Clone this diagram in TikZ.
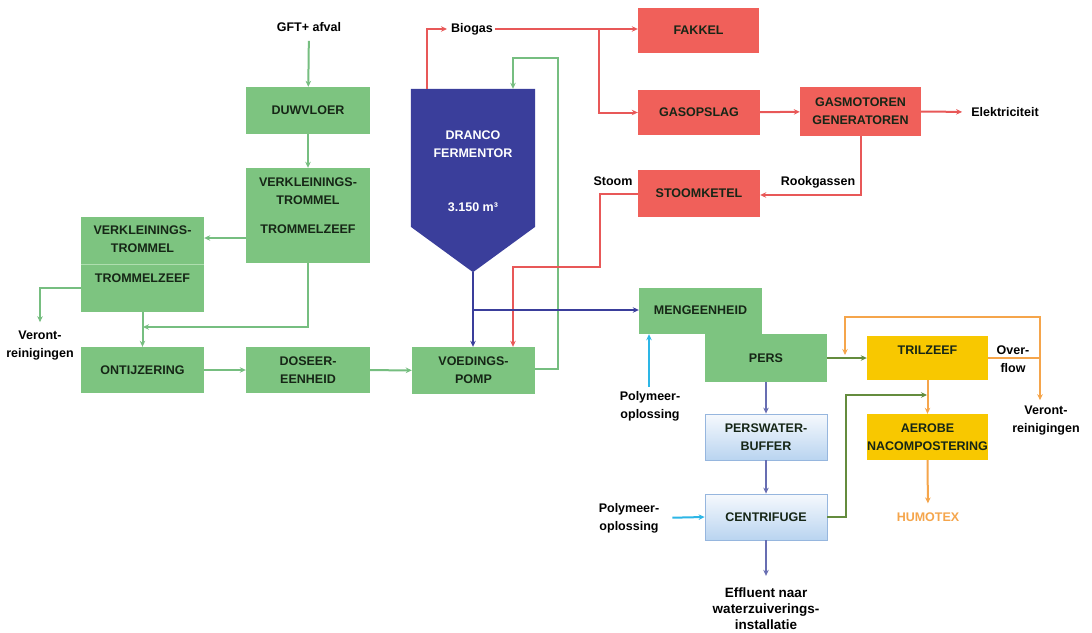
\documentclass[tikz,border=0pt]{standalone}
\usepackage{fontspec}
\setmainfont{Liberation Sans}
\usetikzlibrary{arrows.meta,calc}
\definecolor{gfill}{RGB}{125,196,128}
\definecolor{gline}{RGB}{118,190,128}
\definecolor{gdiv}{RGB}{175,222,175}
\definecolor{rfill}{RGB}{240,96,90}
\definecolor{rline}{RGB}{232,88,88}
\definecolor{dblue}{RGB}{58,62,155}
\definecolor{gold}{RGB}{248,200,0}
\definecolor{oline}{RGB}{245,165,75}
\definecolor{cline}{RGB}{45,182,230}
\definecolor{olive}{RGB}{100,140,62}
\definecolor{pline}{RGB}{104,110,178}
\definecolor{ptop}{RGB}{246,249,253}
\definecolor{pbot}{RGB}{185,212,240}
\definecolor{pbord}{RGB}{150,182,222}
\definecolor{btext}{RGB}{22,38,22}
\begin{document}
\begin{tikzpicture}[x=1pt,y=-1pt,
  every node/.style={font=\fontsize{12.5}{18}\selectfont\bfseries, inner sep=0pt, align=center},
  gbox/.style={fill=gfill, text=btext},
  rbox/.style={fill=rfill, text=btext},
  ybox/.style={fill=gold, text=btext},
  pbox/.style={draw=pbord, line width=0.8pt, top color=ptop, bottom color=pbot, text=btext},
  lbl/.style={text=black},
  con/.style={line width=2pt},
  tip/.style={-{Stealth[length=6pt,width=5.5pt]}},
  garr/.style={con, draw=gline, tip},
  rarr/.style={con, draw=rline, tip},
  barr/.style={con, draw=dblue, tip},
  carr/.style={con, draw=cline, tip},
  oarr/.style={con, draw=olive, tip},
  orarr/.style={con, draw=oline, tip},
  parr/.style={con, draw=pline, tip}
]
\useasboundingbox (0,0) rectangle (1092,632);
\fill[white] (0,0) rectangle (1092,632);

% ---------- green boxes ----------
\node[gbox, minimum width=124pt, minimum height=47pt] (duw) at (308,110.5) {DUWVLOER};
\node[gbox, minimum width=124pt, minimum height=95pt] (vk1) at (308,215.5) {};
\node[text=btext] (vk1a) at (308,191) {VERKLEININGS-\\TROMMEL};
\node[text=btext] (vk1b) at (308,229) {TROMMELZEEF};
\node[gbox, minimum width=123pt, minimum height=95pt] (vk2) at (142.5,264.5) {};
\draw[gdiv, line width=1pt] ($(vk2.west)+(0,-0.5)$) -- ($(vk2.east)+(0,-0.5)$);
\node[text=btext] (vk2a) at (142.5,239) {VERKLEININGS-\\TROMMEL};
\node[text=btext] (vk2b) at (142.5,278) {TROMMELZEEF};
\node[gbox, minimum width=123pt, minimum height=46pt] (ont) at (142.5,370) {ONTIJZERING};
\node[gbox, minimum width=124pt, minimum height=46pt] (dos) at (308,370) {DOSEER-\\EENHEID};
\node[gbox, minimum width=123pt, minimum height=47pt] (voe) at (473.5,370.5) {VOEDINGS-\\POMP};
\node[gbox, minimum width=123pt, minimum height=46pt] (men) at (700.5,311) {};
\node[gbox, minimum width=122pt, minimum height=48pt] (pers) at (766,358) {PERS};
\node[text=btext] (ment) at (700.5,310) {MENGEENHEID};

% ---------- Dranco fermentor ----------
\node[minimum width=124pt, minimum height=183pt] (dra) at (473,180.5) {};
\fill[dblue] (dra.north west) -- (dra.north east) -- ($(dra.north east)+(0,138)$)
  -- (dra.south) -- ($(dra.north west)+(0,138)$) -- cycle;
\node[text=white] (drat) at (473,144.5) {DRANCO\\FERMENTOR};
\node[text=white] (drav) at (473,207) {3.150 m³};

% ---------- red boxes ----------
\node[rbox, minimum width=121pt, minimum height=45pt] (fak) at (698.5,30.5) {FAKKEL};
\node[rbox, minimum width=122pt, minimum height=45pt] (gas) at (699,112.5) {GASOPSLAG};
\node[rbox, minimum width=121pt, minimum height=49pt] (gmo) at (860.5,111.5) {GASMOTOREN\\GENERATOREN};
\node[rbox, minimum width=122pt, minimum height=47pt] (sto) at (699,193.5) {STOOMKETEL};

% ---------- yellow / blue boxes ----------
\node[ybox, minimum width=121pt, minimum height=44pt] (tril) at (927.5,358) {};
\node[text=btext] (trilt) at (927.5,350) {TRILZEEF};
\node[ybox, minimum width=121pt, minimum height=46pt] (aer) at (927.5,437) {AEROBE\\NACOMPOSTERING};
\node[pbox, minimum width=122pt, minimum height=46pt] (pwb) at (766,437) {PERSWATER-\\BUFFER};
\node[pbox, minimum width=122pt, minimum height=46pt] (cen) at (766,517) {CENTRIFUGE};

% ---------- labels ----------
\node[lbl] (gft) at (309,27) {GFT+ afval};
\node[lbl] (ver1) at (40,346) {Veront-\\reinigingen};
\node[lbl] (bio) at (472,29) {Biogas};
\node[lbl] (ele) at (1005,112) {Elektriciteit};
\node[lbl] (rook) at (818,182) {Rookgassen};
\node[lbl] (stoom) at (613,181) {Stoom};
\node[lbl] (pol1) at (650,406) {Polymeer-\\oplossing};
\node[lbl] (pol2) at (629,518) {Polymeer-\\oplossing};
\node[lbl] (over) at (1013,359) {Over-\\flow};
\node[lbl] (ver2) at (1046,421) {Veront-\\reinigingen};
\node[text=oline] (hum) at (928,517) {HUMOTEX};
\node[lbl, font=\fontsize{13.5}{16}\selectfont\bfseries] (eff) at (766,609) {Effluent naar\\waterzuiverings-\\installatie};

% ---------- helper coordinates ----------
\coordinate (m1) at (143,327);
\coordinate (g1) at (558,58);
\coordinate (g2) at (513,58);
\coordinate (b0) at (427,29);
\coordinate (b1) at (599,29);
\coordinate (s1) at (600,267);
\coordinate (s2) at (513,267);
\coordinate (bj) at (474,310);
\coordinate (o1) at (846,395);
\coordinate (o2) at (927,395);
\coordinate (oj) at (1040,358);
\coordinate (ot) at (1040,317);
\coordinate (ol) at (845,317);

% ---------- green connectors ----------
\draw[garr, shorten <=9pt] (gft) -- (duw);
\draw[garr] (duw) -- (vk1);
\draw[garr] ($(vk1.west)+(0,22.5)$) -- ($(vk2.east)+(0,-26.5)$);
\draw[garr, shorten >=9pt] ($(vk2.west)+(0,23.5)$) -| (ver1.north);
\draw[garr] (vk1.south) |- (m1);
\draw[garr] (vk2.south) -- (ont.north);
\draw[garr] (ont) -- (dos);
\draw[garr] (dos) -- (voe);
\draw[garr] ($(voe.east)+(0,-2)$) -| (g1) -- (g2) -- (g2 |- dra.north);

% ---------- red connectors ----------
\draw[rarr, shorten >=4pt] (b0 |- dra.north) |- (bio.west);
\draw[rarr] ($(bio.east)+(2,0)$) -- (fak.west |- bio.east);
\draw[rarr] (b1) |- (gas.west);
\draw[rarr] (gas) -- (gmo);
\draw[rarr, shorten >=9pt] (gmo.east) -- (ele.west);
\draw[rarr] (gmo.south) |- ($(sto.east)+(0,1.5)$);
\draw[rarr] (sto.west) -| (s1) -- (s2) -- (s2 |- voe.north);

% ---------- blue connectors ----------
\draw[barr] (dra.south) -- (dra.south |- voe.north);
\draw[barr] (bj) -- (men.west |- bj);

% ---------- cyan ----------
\draw[carr, shorten <=4pt] (pol1.north -| 649,0) -- (men.south -| 649,0);
\draw[carr, shorten <=13pt] (pol2.east) -- (cen.west);

% ---------- olive ----------
\draw[oarr] (pers.east) -- (tril.west);
\draw[oarr] (cen.east) -| (o1) -- (o2);

% ---------- orange ----------
\draw[con, draw=oline] (tril.east) -- (oj);
\draw[orarr] (oj) -- (ot) -- (ol) -- ($(ol |- tril.west)+(0,-3)$);
\draw[orarr, shorten >=6pt] (oj) -- (oj |- ver2.north);
\draw[orarr] (tril.south) -- (aer.north);
\draw[orarr, shorten >=9pt] (aer.south) -- (hum.north);

% ---------- blue-gray ----------
\draw[parr] (pers) -- (pwb);
\draw[parr] (pwb) -- (cen);
\draw[parr, shorten >=12pt] (cen.south) -- (eff.north);
\end{tikzpicture}
\end{document}
